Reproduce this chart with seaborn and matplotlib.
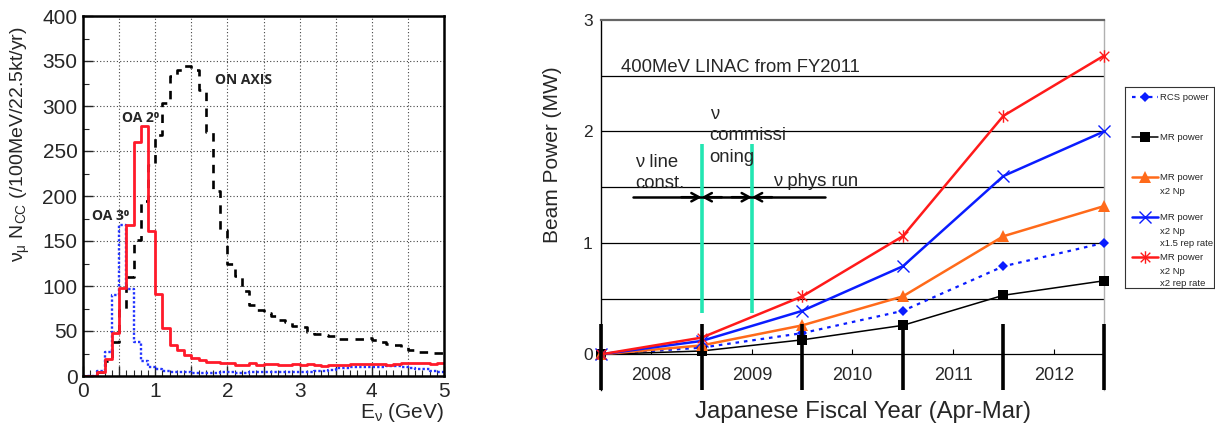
import numpy as np
import pandas as pd
import matplotlib
matplotlib.use("Agg")
import matplotlib.pyplot as plt
import seaborn as sns
from matplotlib.path import Path

# ---------------- data: left panel (events per 0.1 GeV bin) ----------------
bin_width = 0.1
n_bins = 50
on_axis = [0, 0, 5, 17, 38, 73, 110, 151, 194, 235,
           268, 303, 333, 340, 345, 340, 318, 271, 206, 162,
           125, 111, 94, 79, 73, 70, 67, 62, 60, 56,
           54, 49, 47, 46, 44, 41, 41, 41, 41, 42,
           40, 38, 36, 34, 32, 29, 27, 27, 26, 26]
oa2 = [0, 0, 5, 19, 48, 98, 168, 260, 278, 161,
       91, 53, 35, 29, 23, 20, 18, 16, 16, 15,
       14, 12, 12, 14, 12, 13, 13, 12, 12, 13,
       12, 13, 12, 11, 12, 12, 12, 13, 13, 13,
       13, 13, 12, 13, 14, 14, 14, 15, 13, 15]
oa3 = [0, 0, 6, 27, 90, 168, 97, 38, 17, 10,
       8, 6, 5, 5, 4, 3, 3, 3, 3, 4,
       4, 3, 3, 4, 4, 4, 5, 5, 5, 5,
       5, 5, 6, 6, 7, 9, 9, 10, 10, 10,
       10, 10, 11, 11, 10, 9, 8, 8, 6, 5]

# ---------------- data: right panel (beam power, MW, at fiscal-year boundaries) ----------------
years = ["2008", "2009", "2010", "2011", "2012"]
rcs_power = [0, 0.06, 0.19, 0.39, 0.79, 1.00]
mr_power = [0, 0.03, 0.13, 0.26, 0.53, 0.66]
mr_2np = [0, 0.08, 0.26, 0.52, 1.06, 1.33]
mr_2np_15 = [0, 0.12, 0.39, 0.79, 1.60, 2.00]
mr_2np_2 = [0, 0.15, 0.52, 1.06, 2.14, 2.68]
legend_labels = ["RCS power", "MR power", "MR power\nx2 Np",
                 "MR power\nx2 Np\nx1.5 rep rate", "MR power\nx2 Np\nx2 rep rate"]

sns.set_style("white")
plt.rcParams["font.family"] = ["Liberation Sans", "DejaVu Sans"]
plt.rcParams["mathtext.fontset"] = "custom"
plt.rcParams["mathtext.rm"] = "Liberation Sans"
plt.rcParams["mathtext.it"] = "Liberation Sans"
plt.rcParams["mathtext.default"] = "regular"

W, H = 1215, 426
fig = plt.figure(figsize=(W / 100, H / 100), dpi=100)
fig.patch.set_facecolor("white")

# ======================= LEFT PANEL =======================
axL = fig.add_axes([83 / W, 50 / H, 361 / W, 360 / H])
edges = np.arange(n_bins + 1) * bin_width
centers = edges[:-1] + bin_width / 2
hist_df = pd.DataFrame({"E": centers, "on_axis": on_axis, "oa2": oa2, "oa3": oa3})
hrange = (edges[0], edges[-1])

sns.histplot(data=hist_df, x="E", weights="on_axis", bins=n_bins, binrange=hrange,
             element="step", fill=False,
             color="black", linestyle=(0, (3.2, 2.8)), linewidth=1.9, ax=axL)
sns.histplot(data=hist_df, x="E", weights="oa3", bins=n_bins, binrange=hrange,
             element="step", fill=False,
             color="#2233ff", linestyle=(0, (1, 0.9)), linewidth=1.7, ax=axL)
sns.histplot(data=hist_df, x="E", weights="oa2", bins=n_bins, binrange=hrange,
             element="step", fill=False,
             color="#ff1a2a", linestyle="-", linewidth=2.0, ax=axL)

axL.set_xlim(0, 5)
axL.set_ylim(0, 400)
xt = np.arange(0, 5.01, 0.5)
axL.set_xticks(xt)
axL.set_xticklabels([str(int(v)) if float(v).is_integer() else "" for v in xt])
axL.set_xticks(np.arange(0, 5.01, 0.1), minor=True)
axL.set_yticks(np.arange(0, 401, 50))
axL.set_yticks(np.arange(0, 401, 25), minor=True)
axL.tick_params(axis="both", which="major", direction="in", length=7, width=1,
                labelsize=15, pad=4, left=True, bottom=True)
axL.tick_params(axis="both", which="minor", direction="in", length=4, width=0.8,
                left=True, bottom=True)
axL.grid(True, which="major", linestyle=(0, (1, 2)), color="#444444", linewidth=0.8)
for s in axL.spines.values():
    s.set_linewidth(1.8)
    s.set_color("black")
axL.set_xlabel("E$_\\nu$ (GeV)", fontsize=15, loc="right", labelpad=0)
axL.set_ylabel("$\\nu_\\mu$ N$_{CC}$ (/100MeV/22.5kt/yr)", fontsize=14)
axL.yaxis.set_label_coords(-0.14, 0.645)

lab_font = dict(fontsize=10, fontweight="bold", family=["Open Sans", "DejaVu Sans"])
axL.text(0.12, 178, "OA 3\u2070", va="center", ha="left", **lab_font)
axL.text(0.54, 287, "OA 2\u2070", va="center", ha="left", **lab_font)
axL.text(1.83, 329, "ON AXIS", va="center", ha="left", **lab_font)

# ======================= RIGHT PANEL =======================
axR = fig.add_axes([601 / W, 36 / H, 503 / W, 370 / H])
xpos = np.arange(len(years) + 1)
ymin, ymax = -0.32, 3.0

axR.hlines(np.arange(0, 2.6, 0.5), 0, len(years), color="black", linewidth=0.9, zorder=1)

star = Path([(-1, -1), (1, 1), (-1, 1), (1, -1), (0, -1.3), (0, 1.3)],
            [Path.MOVETO, Path.LINETO, Path.MOVETO, Path.LINETO, Path.MOVETO, Path.LINETO])

series = [
    (rcs_power, dict(color="#0a1cff", linestyle=(0, (1.6, 2.2)), linewidth=1.6, marker="D",
                     markersize=5, markeredgewidth=0)),
    (mr_power, dict(color="black", linestyle="-", linewidth=1.1, marker="s",
                    markersize=7, markeredgewidth=0)),
    (mr_2np, dict(color="#ff6a1a", linestyle="-", linewidth=1.8, marker="^",
                  markersize=8, markeredgewidth=0)),
    (mr_2np_15, dict(color="#0a1cff", linestyle="-", linewidth=1.8, marker="x",
                     markersize=8, markeredgewidth=1.0)),
    (mr_2np_2, dict(color="#ff1a1a", linestyle="-", linewidth=1.8, marker=star,
                    markersize=9, markeredgewidth=1.0)),
]
for vals, kw in series:
    sns.lineplot(x=xpos, y=vals, ax=axR, zorder=3, markeredgecolor=kw["color"],
                 markerfacecolor=kw["color"], clip_on=False, **kw)

axR.set_xlim(0, len(years))
axR.set_ylim(ymin, ymax)
axR.set_xticks([])
axR.set_yticks([0, 1, 2, 3])
axR.tick_params(axis="y", length=0, labelsize=12.5, pad=6)
for i, y in enumerate(years):
    axR.text(i + 0.5, -0.19, y, ha="center", va="center", fontsize=13)

axR.vlines(xpos, ymin, 0.27, color="black", linewidth=2.6, clip_on=False, zorder=4)
axR.vlines(xpos[:-1] + 0.5, 0, 0.045, color="black", linewidth=0.8, zorder=2)

axR.spines["bottom"].set_visible(False)
axR.spines["left"].set_color("black")
axR.spines["left"].set_linewidth(1.0)
axR.spines["top"].set_color("#666666")
axR.spines["top"].set_linewidth(1.6)
axR.spines["right"].set_color("#b0b0b0")
axR.spines["right"].set_linewidth(1.0)

axR.set_xlabel("Japanese Fiscal Year (Apr-Mar)", fontsize=17.2)
axR.xaxis.set_label_coords(0.52, -0.03)
axR.xaxis.label.set_verticalalignment("top")
axR.set_ylabel("Beam Power (MW)", fontsize=15)
axR.yaxis.set_label_coords(-0.078, 0.635)

# phase markers
axR.vlines([1.0, 1.5], 0.37, 1.89, color="#22e6b2", linewidth=2.6, zorder=2)
ay = 1.41
axR.plot([0.32, 2.23], [ay, ay], color="black", linewidth=1.8, zorder=3)
for (x0, x1) in [(0.8, 1.0), (1.2, 1.0), (1.3, 1.5), (1.7, 1.5)]:
    axR.annotate("", xy=(x1, ay), xytext=(x0, ay),
                 arrowprops=dict(arrowstyle="->,head_length=0.55,head_width=0.3",
                                 color="black", lw=1.8, shrinkA=0, shrinkB=0), zorder=3)

line_step = 0.19  # data units between text lines
for (tx, ty, txt) in [(0.34, 1.68, "\u03bd line\nconst."),
                      (1.08, 2.11, "\u03bd\ncommissi\noning"),
                      (1.71, 1.51, "\u03bd phys run"),
                      (0.20, 2.53, "400MeV LINAC from FY2011")]:
    for j, line in enumerate(txt.split("\n")):
        axR.text(tx, ty - j * line_step, line, ha="left", va="baseline", fontsize=13.3)

# ======================= legend box =======================
lx0, lx1, ly0, ly1 = 1125, 1214, 87, 288
axLeg = fig.add_axes([lx0 / W, (H - ly1) / H, (lx1 - lx0) / W, (ly1 - ly0) / H])
axLeg.set_xlim(0, lx1 - lx0)
axLeg.set_ylim(ly1 - ly0, 0)
axLeg.set_xticks([])
axLeg.set_yticks([])
for s in axLeg.spines.values():
    s.set_linewidth(0.8)
    s.set_color("#333333")
for k, ((vals, kw), lab) in enumerate(zip(series, legend_labels)):
    yy = 10 + 40 * k
    lkw = dict(kw)
    col = lkw.pop("color")
    axLeg.plot([7, 33], [yy, yy], color=col, linestyle=lkw.pop("linestyle"),
               linewidth=lkw.pop("linewidth"), marker="None")
    axLeg.plot([20], [yy], color=col, linestyle="None", markeredgecolor=col,
               markerfacecolor=col, **lkw)
    for j, line in enumerate(lab.split("\n")):
        axLeg.text(35, yy + 3.5 + 13 * j, line, ha="left", va="baseline", fontsize=6.8)

fig.savefig("out.png", dpi=100)
